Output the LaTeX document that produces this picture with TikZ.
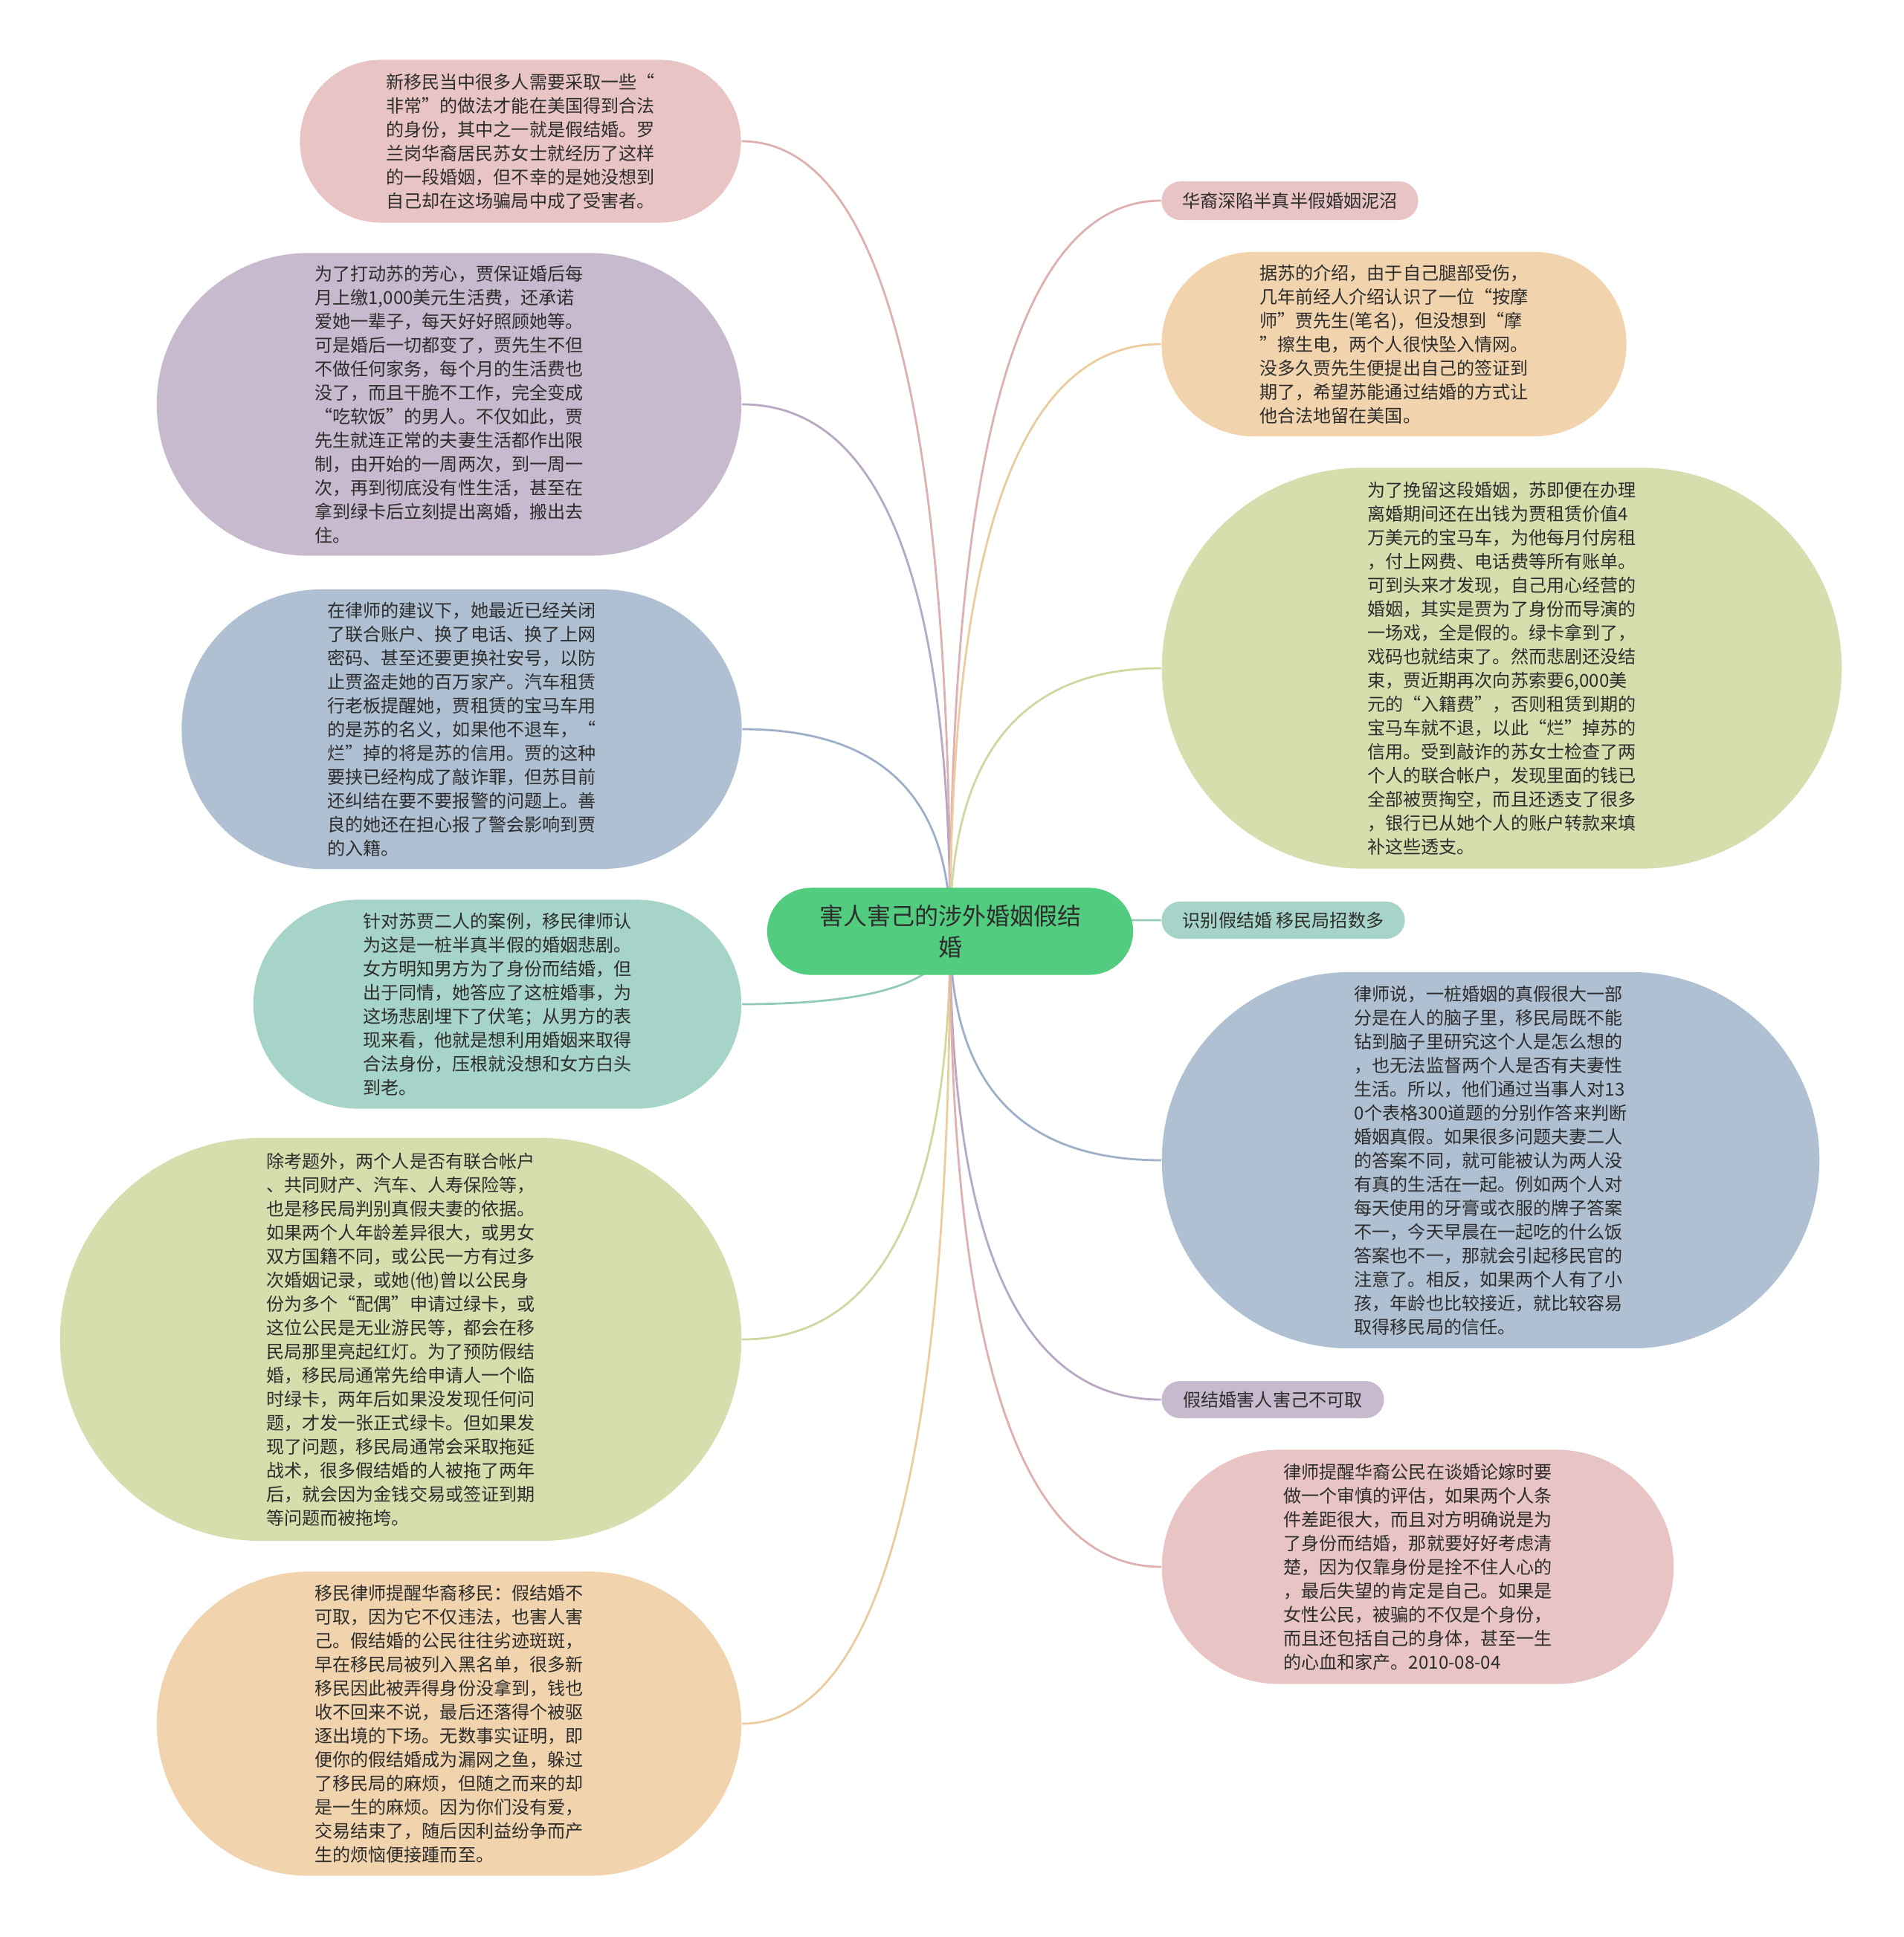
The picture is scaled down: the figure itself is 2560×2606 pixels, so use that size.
\documentclass[tikz,border=0pt]{standalone}
\usepackage{fontspec}
\setmainfont{Noto Sans CJK SC}
\usetikzlibrary{calc,backgrounds}

\definecolor{PinkFill}  {RGB}{232,196,196}
\definecolor{PinkLine}  {RGB}{222,176,176}
\definecolor{PurpleFill}{RGB}{200,186,206}
\definecolor{PurpleLine}{RGB}{184,168,196}
\definecolor{BlueFill}  {RGB}{175,192,211}
\definecolor{BlueLine}  {RGB}{158,176,200}
\definecolor{TealFill}  {RGB}{167,212,201}
\definecolor{TealLine}  {RGB}{148,202,190}
\definecolor{OliveFill} {RGB}{216,221,174}
\definecolor{OliveLine} {RGB}{206,216,160}
\definecolor{OrangeFill}{RGB}{241,212,173}
\definecolor{OrangeLine}{RGB}{236,204,158}
\definecolor{RootGreen} {RGB}{82,204,126}
\definecolor{InkGray}   {RGB}{45,45,45}

\tikzset{
  bubble/.style 2 args={minimum width=#1cm, minimum height=#2cm,
    rounded corners=#2*0.5cm, inner sep=0pt, align=left, text=InkGray,
    font=\fontsize{6.85}{9.1}\selectfont},
  rootbox/.style={fill=RootGreen, minimum width=4.92cm, minimum height=1.17cm,
    rounded corners=0.585cm, inner sep=0pt, align=center, text=InkGray,
    font=\fontsize{9.1}{11.8}\selectfont},
  link/.style={line width=0.8pt}
}

\begin{document}
\begin{tikzpicture}[x=0.01cm, y=-0.01cm]
  \useasboundingbox (0,0) rectangle (2560,2606);

  \node[rootbox] (root) at (1278,1253) {害人害己的涉外婚姻假结\\婚};

  % left side
  \node[bubble={5.93}{2.19}, fill=PinkFill] (intro) at (700,190)
    {新移民当中很多人需要采取一些“\\非常”的做法才能在美国得到合法\\的身份，其中之一就是假结婚。罗\\兰岗华裔居民苏女士就经历了这样\\的一段婚姻，但不幸的是她没想到\\自己却在这场骗局中成了受害者。};
  \node[bubble={7.86}{4.07}, fill=PurpleFill] (promise) at (604,544)
    {为了打动苏的芳心，贾保证婚后每\\月上缴1,000美元生活费，还承诺\\爱她一辈子，每天好好照顾她等。\\可是婚后一切都变了，贾先生不但\\不做任何家务，每个月的生活费也\\没了，而且干脆不工作，完全变成\\“吃软饭”的男人。不仅如此，贾\\先生就连正常的夫妻生活都作出限\\制，由开始的一周两次，到一周一\\次，再到彻底没有性生活，甚至在\\拿到绿卡后立刻提出离婚，搬出去\\住。};
  \node[bubble={7.53}{3.76}, fill=BlueFill] (advice) at (621,981)
    {在律师的建议下，她最近已经关闭\\了联合账户、换了电话、换了上网\\密码、甚至还要更换社安号，以防\\止贾盗走她的百万家产。汽车租赁\\行老板提醒她，贾租赁的宝马车用\\的是苏的名义，如果他不退车，“\\烂”掉的将是苏的信用。贾的这种\\要挟已经构成了敲诈罪，但苏目前\\还纠结在要不要报警的问题上。善\\良的她还在担心报了警会影响到贾\\的入籍。};
  \node[bubble={6.56}{2.81}, fill=TealFill] (verdict) at (669,1351)
    {针对苏贾二人的案例，移民律师认\\为这是一桩半真半假的婚姻悲剧。\\女方明知男方为了身份而结婚，但\\出于同情，她答应了这桩婚事，为\\这场悲剧埋下了伏笔；从男方的表\\现来看，他就是想利用婚姻来取得\\合法身份，压根就没想和女方白头\\到老。};
  \node[bubble={9.16}{5.42}, fill=OliveFill] (checks) at (539,1802)
    {除考题外，两个人是否有联合帐户\\、共同财产、汽车、人寿保险等，\\也是移民局判别真假夫妻的依据。\\如果两个人年龄差异很大，或男女\\双方国籍不同，或公民一方有过多\\次婚姻记录，或她(他)曾以公民身\\份为多个“配偶”申请过绿卡，或\\这位公民是无业游民等，都会在移\\民局那里亮起红灯。为了预防假结\\婚，移民局通常先给申请人一个临\\时绿卡，两年后如果没发现任何问\\题，才发一张正式绿卡。但如果发\\现了问题，移民局通常会采取拖延\\战术，很多假结婚的人被拖了两年\\后，就会因为金钱交易或签证到期\\等问题而被拖垮。};
  \node[bubble={7.86}{4.09}, fill=OrangeFill] (warning) at (604,2319)
    {移民律师提醒华裔移民：假结婚不\\可取，因为它不仅违法，也害人害\\己。假结婚的公民往往劣迹斑斑，\\早在移民局被列入黑名单，很多新\\移民因此被弄得身份没拿到，钱也\\收不回来不说，最后还落得个被驱\\逐出境的下场。无数事实证明，即\\便你的假结婚成为漏网之鱼，躲过\\了移民局的麻烦，但随之而来的却\\是一生的麻烦。因为你们没有爱，\\交易结束了，随后因利益纷争而产\\生的烦恼便接踵而至。};

  % right side
  \node[bubble={3.45}{0.52}, fill=PinkFill, align=center] (mire) at (1735,270)
    {华裔深陷半真半假婚姻泥沼};
  \node[bubble={6.25}{2.48}, fill=OrangeFill] (meeting) at (1875,463)
    {据苏的介绍，由于自己腿部受伤，\\几年前经人介绍认识了一位“按摩\\师”贾先生(笔名)，但没想到“摩\\”擦生电，两个人很快坠入情网。\\没多久贾先生便提出自己的签证到\\期了，希望苏能通过结婚的方式让\\他合法地留在美国。};
  \node[bubble={9.14}{5.39}, fill=OliveFill] (blackmail) at (2020,899)
    {为了挽留这段婚姻，苏即便在办理\\离婚期间还在出钱为贾租赁价值4\\万美元的宝马车，为他每月付房租\\，付上网费、电话费等所有账单。\\可到头来才发现，自己用心经营的\\婚姻，其实是贾为了身份而导演的\\一场戏，全是假的。绿卡拿到了，\\戏码也就结束了。然而悲剧还没结\\束，贾近期再次向苏索要6,000美\\元的“入籍费”，否则租赁到期的\\宝马车就不退，以此“烂”掉苏的\\信用。受到敲诈的苏女士检查了两\\个人的联合帐户，发现里面的钱已\\全部被贾掏空，而且还透支了很多\\，银行已从她个人的账户转款来填\\补这些透支。};
  \node[bubble={3.27}{0.50}, fill=TealFill, align=center] (detect) at (1726,1238)
    {识别假结婚 移民局招数多};
  \node[bubble={8.84}{5.06}, fill=BlueFill] (interview) at (2005,1561)
    {律师说，一桩婚姻的真假很大一部\\分是在人的脑子里，移民局既不能\\钻到脑子里研究这个人是怎么想的\\，也无法监督两个人是否有夫妻性\\生活。所以，他们通过当事人对13\\0个表格300道题的分别作答来判断\\婚姻真假。如果很多问题夫妻二人\\的答案不同，就可能被认为两人没\\有真的生活在一起。例如两个人对\\每天使用的牙膏或衣服的牌子答案\\不一，今天早晨在一起吃的什么饭\\答案也不一，那就会引起移民官的\\注意了。相反，如果两个人有了小\\孩，年龄也比较接近，就比较容易\\取得移民局的信任。};
  \node[bubble={2.99}{0.50}, fill=PurpleFill, align=center] (harm) at (1712,1883)
    {假结婚害人害己不可取};
  \node[bubble={6.88}{3.15}, fill=PinkFill] (remind) at (1907,2108)
    {律师提醒华裔公民在谈婚论嫁时要\\做一个审慎的评估，如果两个人条\\件差距很大，而且对方明确说是为\\了身份而结婚，那就要好好考虑清\\楚，因为仅靠身份是拴不住人心的\\，最后失望的肯定是自己。如果是\\女性公民，被骗的不仅是个身份，\\而且还包括自己的身体，甚至一生\\的心血和家产。2010-08-04};

  % branches behind the boxes
  \begin{scope}[on background layer]
    \foreach \n/\a/\c in {intro/east/PinkLine, promise/east/PurpleLine,
        advice/east/BlueLine, verdict/east/TealLine, checks/east/OliveLine,
        warning/east/OrangeLine, mire/west/PinkLine, meeting/west/OrangeLine,
        blackmail/west/OliveLine, detect/west/TealLine, interview/west/BlueLine,
        harm/west/PurpleLine, remind/west/PinkLine}
      \draw[link, \c] (root.center)
        .. controls ($(root.center)!0.667!(root.center |- \n.\a)$)
        and ($(\n.\a)!0.667!(root.center |- \n.\a)$) .. (\n.\a);
  \end{scope}
\end{tikzpicture}
\end{document}
